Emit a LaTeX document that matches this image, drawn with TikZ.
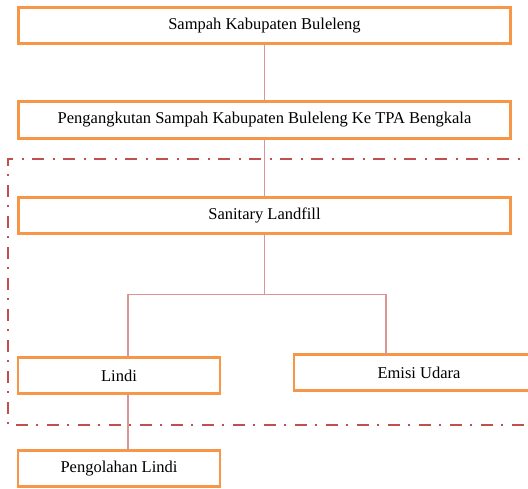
\documentclass[tikz,border=0pt]{standalone}
\usepackage{fontspec}
\setmainfont{Liberation Serif}
\usetikzlibrary{positioning}
\definecolor{boxorange}{RGB}{247,150,70}
\definecolor{linkred}{RGB}{217,150,148}
\definecolor{framered}{RGB}{192,80,77}
\tikzset{
  box/.style={draw=boxorange, line width=2.4pt, minimum height=36pt, inner sep=0pt, outer sep=0pt,
    font=\fontsize{16.5}{19}\selectfont},
  widebox/.style={box, minimum width=492pt},
  smallbox/.style={box, minimum width=202pt},
  link/.style={draw=linkred, line width=1.4pt},
  frame/.style={draw=framered, line width=2.4pt, dash pattern=on 12pt off 8pt on 2pt off 9pt}
}
\begin{document}
\begin{tikzpicture}[x=1pt,y=1pt]
    \useasboundingbox (0,0) rectangle (528,-488);
    \node (1) [widebox] at (264.5,-25.5) {Sampah Kabupaten Buleleng};
    \node (2) [widebox, minimum height=37pt, below = 58pt,at=(1.south)] {Pengangkutan Sampah Kabupaten Buleleng Ke TPA Bengkala};
    \node (3) [widebox, below = 59pt,at=(2.south)] {Sanitary Landfill};
    \node (4a) [smallbox, below = 124pt,at=(3.south), xshift=-145.5pt] {Lindi};
    \node (4b) [box, minimum width=250pt, right = 74pt,at=(4a.east), yshift=3pt] {Emisi Udara};
    \node (5) [smallbox, below = 57pt,at=(4a.south)] {Pengolahan Lindi};

    \coordinate (fork) at ([yshift=-61pt]3.south);
    \coordinate (4a top) at ([xshift=9pt]4a.north);
    \coordinate (4a bottom) at ([xshift=9pt]4a.south);
    \coordinate (5 top) at ([xshift=9pt]5.north);
    \coordinate (4b top) at ([xshift=-33pt]4b.north);

    \path[link]
    (1) edge node {} (2)
    (2) edge node {} (3)
    (3) edge node {} (fork)
    (4a bottom) edge node {} (5 top)
    ;
    \draw[link] (4b top) |- (fork) -| (4a top);

    % batas area TPA
    \draw[frame] (540,-159) -| (8,-425) -- (540,-425);
  \end{tikzpicture}
\end{document}
